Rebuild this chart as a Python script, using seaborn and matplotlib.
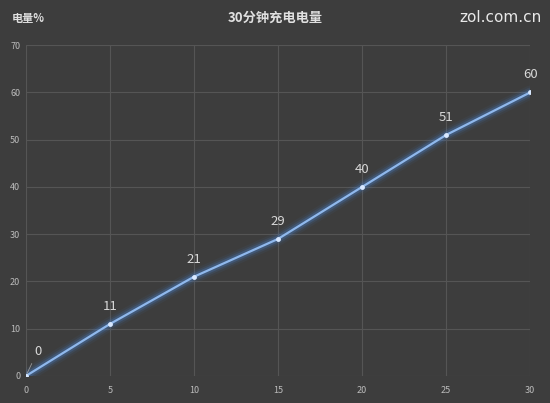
import pandas as pd
import matplotlib.pyplot as plt
import seaborn as sns

minutes = [0, 5, 10, 15, 20, 25, 30]
battery = [0, 11, 21, 29, 40, 51, 60]

data = pd.DataFrame({"minutes": minutes, "battery": battery})

sns.set_style("dark")
plt.rcParams['font.family'] = ['Noto Sans CJK SC', 'DejaVu Sans']

bg = "#3d3d3d"
fig = plt.figure(figsize=(5.5, 4.03), dpi=100, facecolor=bg)
ax = fig.add_axes([0.047, 0.067, 0.917, 0.821])
ax.set_facecolor(bg)

# glow under the line
for lw, a in [(10, 0.06), (7, 0.12), (4.5, 0.25)]:
    sns.lineplot(x="minutes", y="battery", data=data, ax=ax, color="#4a86d8",
                 linewidth=lw, alpha=a)
sns.lineplot(x="minutes", y="battery", data=data, ax=ax, color="#8fb8ec",
             linewidth=1.6, marker="o", markersize=3.5, markeredgewidth=0,
             markerfacecolor="#d8e8ff")

for x, y in zip(minutes, battery):
    if x == 0:
        ax.annotate(str(y), (x, y), xytext=(0.7, 4.5), textcoords="data",
                    color="#d8d8d8", fontsize=9.5, ha="center",
                    arrowprops=dict(arrowstyle="-", color="#999999", lw=0.6))
    else:
        ax.text(x, y + 3, str(y), color="#d8d8d8", fontsize=9.5, ha="center")

ax.set_xlim(0, 30)
ax.set_ylim(0, 70)
ax.set_xticks(range(0, 31, 5))
ax.set_yticks(range(0, 71, 10))
ax.grid(True, color="#555555", linewidth=0.8)
for s in ax.spines.values():
    s.set_visible(False)
ax.tick_params(colors="#bbbbbb", labelsize=6.5, length=0, pad=4)
ax.tick_params(axis="x", pad=7)
ax.set_xlabel("")
ax.set_ylabel("")

fig.text(0.022, 0.945, "电量%", color="#e0e0e0", fontsize=8, fontweight="bold")
fig.text(0.5, 0.945, "30分钟充电电量", color="#e0e0e0", fontsize=9.5,
         fontweight="bold", ha="center")
fig.text(0.985, 0.945, "zol.com.cn", color="#e8e8e8", fontsize=11, ha="right",
         family="DejaVu Sans")

fig.savefig("out.png", dpi=100, facecolor=bg)
